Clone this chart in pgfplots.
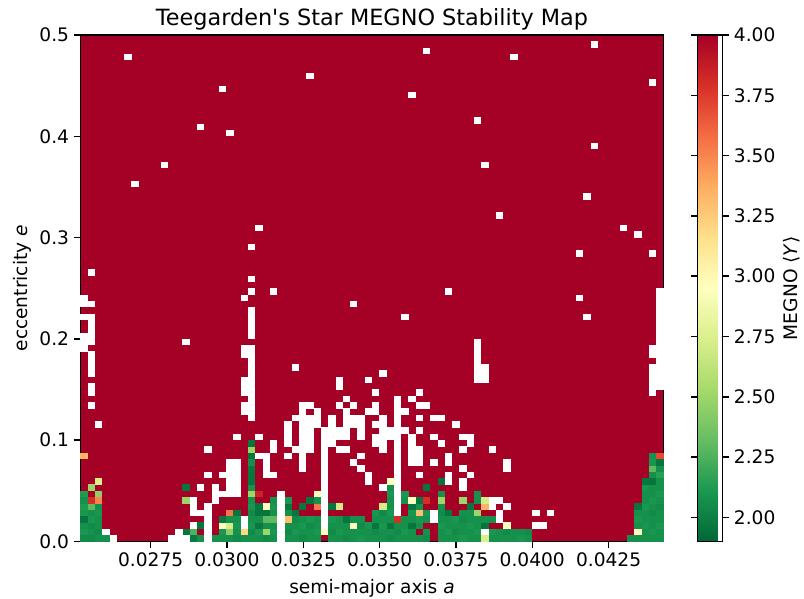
\documentclass[border=0pt]{standalone}
\usepackage{fontspec}
\setmainfont{DejaVu Sans}
\usepackage{pgfplots}
\usepackage{pgfplotstable}
\pgfplotsset{compat=1.18}
\pgfplotsset{/pgf/number format/assume math mode=true}

\definecolor{megnosat}{RGB}{165,0,38}

% reversed RdYlGn
\pgfplotsset{colormap={RdYlGnr}{rgb255=(0,104,55) rgb255=(26,152,80) rgb255=(102,189,99) rgb255=(166,217,106) rgb255=(217,239,139) rgb255=(255,255,191) rgb255=(254,224,139) rgb255=(253,174,97) rgb255=(244,109,67) rgb255=(215,48,39) rgb255=(165,0,38)}}

\newcommand\tickfont{\fontsize{13.4}{16}\selectfont}

% one grid cell of the 80 x 80 (a, e) scan
\newlength\cellw \setlength\cellw{5.34pt}
\newlength\cellh \setlength\cellh{4.65pt}
\pgfdeclareplotmark{cell}{%
  \pgfpathrectangle{\pgfpoint{-0.5\cellw}{-0.5\cellh}}{\pgfpoint{\cellw}{\cellh}}%
  \pgfusepathqfill}

% cells with MEGNO below saturation: column i, row j, <Y>
\pgfplotstableread[row sep=\\]{
i j v\\
0 0 2.05\\ 0 1 2.10\\ 0 2 2.08\\ 0 3 1.96\\ 0 4 2.10\\ 0 5 2.12\\ 0 6 2.08\\ 0 7 2.12\\ 0 13 3.35\\
1 0 2.05\\ 1 1 2.08\\ 1 2 2.05\\ 1 3 2.10\\ 1 4 2.08\\ 1 5 2.30\\ 1 6 3.80\\ 1 8 2.50\\
2 0 2.08\\ 2 1 2.05\\ 2 2 2.08\\ 2 3 2.08\\ 2 4 2.10\\ 2 5 2.08\\ 2 6 3.50\\ 2 7 2.45\\ 2 9 2.75\\
3 0 2.08\\
14 1 1.96\\ 14 6 2.50\\ 14 8 1.96\\
15 0 1.98\\ 15 1 2.25\\
16 0 2.08\\ 16 2 1.96\\
18 0 2.08\\
19 0 2.08\\ 19 1 2.10\\ 19 2 2.95\\ 19 3 1.98\\
20 0 2.08\\ 20 1 2.45\\ 20 2 2.72\\ 20 3 2.08\\ 20 4 3.55\\
21 0 2.05\\ 21 1 2.08\\ 21 2 2.10\\ 21 3 2.08\\ 21 4 1.96\\
22 0 2.08\\ 22 1 3.20\\
23 0 2.08\\ 23 1 2.05\\ 23 2 2.10\\ 23 3 2.08\\ 23 4 2.05\\ 23 5 2.10\\ 23 6 2.08\\ 23 7 2.50\\ 23 8 2.08\\ 23 9 1.96\\ 23 10 1.96\\ 23 11 1.98\\ 23 12 2.08\\ 23 13 1.96\\ 23 14 2.50\\ 23 15 1.96\\
24 0 2.08\\ 24 1 2.10\\ 24 2 1.98\\ 24 3 2.08\\ 24 4 1.96\\ 24 5 1.96\\ 24 7 3.85\\
25 0 2.05\\ 25 1 2.50\\ 25 2 2.08\\ 25 3 2.30\\ 25 4 1.96\\ 25 5 2.95\\
26 0 2.08\\ 26 1 2.10\\ 26 2 2.08\\ 26 3 2.30\\ 26 4 2.08\\ 26 5 2.10\\ 26 6 2.08\\
28 0 2.08\\ 28 1 2.05\\ 28 2 2.08\\ 28 3 3.30\\ 28 4 2.08\\ 28 5 1.96\\ 28 6 2.10\\
29 0 2.08\\ 29 1 2.10\\ 29 2 2.08\\ 29 3 2.05\\ 29 4 1.96\\
30 0 2.05\\ 30 1 2.08\\ 30 2 2.10\\ 30 3 2.08\\ 30 5 1.96\\
31 0 2.08\\ 31 1 2.08\\ 31 2 2.05\\ 31 3 2.10\\ 31 6 1.96\\
32 0 2.08\\ 32 1 2.10\\ 32 2 2.08\\ 32 3 2.08\\ 32 5 3.55\\ 32 6 2.08\\ 32 7 2.95\\
33 1 2.95\\
34 0 2.08\\ 34 1 2.05\\ 34 2 2.08\\ 34 3 2.10\\ 34 5 1.96\\
35 0 2.08\\ 35 1 2.10\\ 35 2 2.08\\ 35 3 2.08\\ 35 5 2.72\\
36 0 2.05\\ 36 1 2.08\\ 36 2 2.08\\ 36 3 1.96\\
37 0 2.08\\ 37 1 2.08\\ 37 2 2.95\\ 37 3 2.08\\
38 0 2.10\\ 38 1 2.08\\ 38 2 2.05\\ 38 3 2.08\\
39 0 2.08\\ 39 1 2.08\\ 39 2 2.10\\
40 0 2.08\\ 40 1 2.05\\ 40 2 1.96\\ 40 3 2.08\\ 40 4 2.10\\
41 0 2.08\\ 41 1 2.08\\ 41 2 2.10\\ 41 3 2.08\\ 41 4 2.05\\ 41 5 2.72\\
42 0 2.05\\ 42 1 2.08\\ 42 2 1.96\\ 42 3 2.08\\ 42 4 2.10\\ 42 5 2.08\\ 42 6 2.08\\ 42 7 2.10\\ 42 8 2.08\\ 42 9 2.95\\
43 0 2.08\\ 43 1 2.05\\ 43 2 2.08\\ 43 3 3.80\\
44 0 2.08\\ 44 1 2.10\\ 44 2 2.08\\ 44 3 2.08\\ 44 6 2.08\\ 44 7 2.10\\
45 0 2.08\\ 45 1 2.08\\ 45 2 1.96\\ 45 3 2.08\\ 45 4 2.10\\ 45 5 1.96\\ 45 6 2.95\\
46 0 2.08\\ 46 2 2.08\\ 46 3 2.10\\ 46 4 3.30\\ 46 5 2.08\\ 46 6 1.96\\
47 0 2.05\\ 47 1 2.08\\ 47 3 2.08\\ 47 4 2.10\\ 47 6 3.80\\ 47 8 1.96\\
49 0 2.08\\ 49 1 2.08\\ 49 2 2.10\\ 49 3 2.08\\ 49 4 2.05\\ 49 5 2.08\\ 49 6 2.50\\ 49 7 2.08\\ 49 9 1.96\\
50 0 2.08\\ 50 1 2.10\\ 50 2 2.08\\ 50 3 2.08\\ 50 4 1.96\\
51 0 2.08\\ 51 1 2.05\\ 51 2 2.08\\ 51 3 2.10\\
52 0 2.10\\ 52 1 2.08\\ 52 2 2.08\\ 52 3 2.05\\ 52 4 2.08\\ 52 6 2.50\\
53 0 2.08\\ 53 1 2.08\\ 53 2 2.10\\ 53 3 2.08\\ 53 4 2.08\\ 53 5 1.96\\
54 0 2.08\\ 54 1 2.10\\ 54 2 2.08\\ 54 3 2.08\\ 54 4 2.50\\ 54 6 2.08\\ 54 7 2.08\\
55 0 2.75\\ 55 2 1.96\\ 55 3 2.08\\ 55 5 3.35\\ 55 6 2.72\\
56 0 2.08\\ 56 1 2.10\\ 56 3 2.08\\
57 0 2.08\\ 57 1 2.08\\
58 0 2.08\\ 58 1 2.05\\ 58 2 2.95\\
59 0 2.08\\ 59 1 2.08\\
60 0 2.10\\ 60 1 2.08\\
61 0 2.08\\ 61 1 2.05\\
75 0 2.08\\
76 0 2.08\\ 76 1 2.95\\ 76 2 2.08\\ 76 3 2.10\\ 76 4 2.08\\ 76 5 1.96\\
77 0 2.08\\ 77 1 2.08\\ 77 2 2.10\\ 77 3 2.08\\ 77 4 2.08\\ 77 5 2.10\\ 77 6 2.08\\ 77 7 2.08\\ 77 8 2.10\\ 77 9 1.96\\
78 0 2.08\\ 78 1 2.10\\ 78 2 2.08\\ 78 3 2.08\\ 78 4 2.05\\ 78 5 2.08\\ 78 6 2.10\\ 78 7 2.08\\ 78 8 2.08\\ 78 9 1.96\\ 78 10 2.08\\ 78 11 2.30\\ 78 12 2.10\\ 78 13 2.08\\
79 0 2.08\\ 79 1 2.08\\ 79 2 2.10\\ 79 3 2.08\\ 79 4 2.08\\ 79 5 2.05\\ 79 6 2.08\\ 79 7 2.10\\ 79 8 2.08\\ 79 9 2.08\\ 79 10 2.15\\ 79 11 2.08\\ 79 12 1.96\\ 79 13 3.70\\
}\stablecells

% cells where the integration broke off (no MEGNO value)
\pgfplotstableread[row sep=\\]{
i j\\
4 0\\ 12 0\\ 13 0\\ 14 0\\ 17 0\\ 27 0\\
3 1\\ 13 1\\ 17 1\\ 27 1\\ 55 1\\
15 2\\ 17 2\\ 22 2\\ 27 2\\ 33 2\\ 62 2\\ 63 2\\
17 3\\ 22 3\\ 27 3\\ 33 3\\ 48 3\\ 57 3\\
15 4\\ 16 4\\ 17 4\\ 27 4\\ 33 4\\ 43 4\\ 48 4\\ 57 4\\ 62 4\\ 64 4\\
15 5\\ 17 5\\ 27 5\\ 33 5\\ 43 5\\ 56 5\\ 58 5\\
15 6\\ 18 6\\ 27 6\\ 33 6\\ 43 6\\ 56 6\\ 57 6\\
18 7\\ 19 7\\ 20 7\\ 21 7\\ 27 7\\ 33 7\\ 43 7\\
16 8\\ 18 8\\ 20 8\\ 21 8\\ 33 8\\ 41 8\\ 43 8\\ 52 8\\
20 9\\ 21 9\\ 33 9\\ 39 9\\ 43 9\\ 50 9\\ 52 9\\
17 10\\ 19 10\\ 20 10\\ 21 10\\ 25 10\\ 26 10\\ 33 10\\ 39 10\\ 43 10\\ 46 10\\ 50 10\\ 53 10\\
20 11\\ 21 11\\ 25 11\\ 30 11\\ 33 11\\ 38 11\\ 43 11\\ 52 11\\ 58 11\\
20 12\\ 21 12\\ 25 12\\ 30 12\\ 33 12\\ 37 12\\ 43 12\\ 45 12\\ 46 12\\ 48 12\\ 50 12\\ 58 12\\
24 13\\ 25 13\\ 28 13\\ 30 13\\ 33 13\\ 38 13\\ 43 13\\ 45 13\\ 46 13\\ 50 13\\
17 14\\ 26 14\\ 29 14\\ 30 14\\ 31 14\\ 33 14\\ 35 14\\ 36 14\\ 41 14\\ 43 14\\ 45 14\\ 46 14\\ 52 14\\ 56 14\\
26 15\\ 28 15\\ 30 15\\ 31 15\\ 33 15\\ 34 15\\ 40 15\\ 41 15\\ 43 15\\ 45 15\\ 49 15\\ 53 15\\
21 16\\ 24 16\\ 28 16\\ 30 16\\ 31 16\\ 33 16\\ 34 16\\ 35 16\\ 36 16\\ 38 16\\ 40 16\\ 41 16\\ 42 16\\ 43 16\\ 45 16\\ 48 16\\ 52 16\\ 53 16\\
28 17\\ 30 17\\ 31 17\\ 33 17\\ 34 17\\ 35 17\\ 36 17\\ 38 17\\ 41 17\\ 42 17\\ 43 17\\ 44 17\\ 46 17\\
2 18\\ 28 18\\ 30 18\\ 31 18\\ 32 18\\ 34 18\\ 36 18\\ 37 18\\ 38 18\\ 40 18\\ 41 18\\ 43 18\\ 51 18\\
23 19\\ 29 19\\ 30 19\\ 31 19\\ 32 19\\ 34 19\\ 36 19\\ 37 19\\ 38 19\\ 41 19\\ 43 19\\ 46 19\\ 48 19\\ 49 19\\
22 20\\ 23 20\\ 30 20\\ 32 20\\ 36 20\\ 39 20\\ 40 20\\ 43 20\\ 44 20\\
1 21\\ 22 21\\ 23 21\\ 30 21\\ 31 21\\ 35 21\\ 37 21\\ 40 21\\ 43 21\\ 46 21\\ 47 21\\
23 22\\ 36 22\\ 43 22\\ 45 22\\
1 23\\ 22 23\\ 23 23\\ 40 23\\ 46 23\\ 78 23\\
1 24\\ 22 24\\ 23 24\\ 35 24\\ 78 24\\ 79 24\\
22 25\\ 23 25\\ 35 25\\ 39 25\\ 54 25\\ 55 25\\ 78 25\\ 79 25\\
1 26\\ 23 26\\ 41 26\\ 54 26\\ 55 26\\ 78 26\\ 79 26\\
1 27\\ 23 27\\ 29 27\\ 54 27\\ 55 27\\ 78 27\\ 79 27\\
1 28\\ 23 28\\ 54 28\\ 79 28\\
1 29\\ 22 29\\ 23 29\\ 54 29\\ 78 29\\ 79 29\\
0 30\\ 22 30\\ 23 30\\ 54 30\\ 78 30\\ 79 30\\
0 31\\ 1 31\\ 14 31\\ 54 31\\ 79 31\\
0 32\\ 1 32\\ 23 32\\ 79 32\\
1 33\\ 23 33\\ 79 33\\
1 34\\ 23 34\\ 79 34\\
0 35\\ 1 35\\ 23 35\\ 44 35\\ 69 35\\ 79 35\\
23 36\\ 79 36\\
0 37\\ 1 37\\ 37 37\\ 79 37\\
0 38\\ 22 38\\ 68 38\\ 79 38\\
23 39\\ 26 39\\ 50 39\\ 79 39\\
23 41\\ 1 42\\ 23 46\\ 68 45\\ 78 45\\ 76 48\\ 24 49\\ 74 49\\
57 51\\ 69 54\\ 7 56\\ 11 59\\ 55 59\\ 70 62\\ 20 64\\ 16 65\\ 54 66\\
45 70\\ 19 71\\ 78 72\\ 31 73\\ 6 76\\ 59 76\\ 47 77\\ 70 78\\
}\voidcells

\begin{document}
\begin{tikzpicture}
\useasboundingbox (-57.96pt,-41.4pt) rectangle (520.92pt,389.88pt);
\begin{axis}[
  at={(0pt,0pt)}, anchor=south west,
  scale only axis, width=419.76pt, height=364.68pt,
  xmin=0.0252, xmax=0.0443, ymin=0, ymax=0.5,
  axis on top,
  colormap name=RdYlGnr,
  point meta min=1.9, point meta max=4.0,
  xtick={0.0275,0.0300,0.0325,0.0350,0.0375,0.0400,0.0425},
  ytick={0,0.1,0.2,0.3,0.4,0.5},
  scaled x ticks=false, scaled y ticks=false,
  xticklabel style={/pgf/number format/.cd, fixed, fixed zerofill, precision=4},
  yticklabel style={/pgf/number format/.cd, fixed, fixed zerofill, precision=1},
  tick align=outside, tick pos=left,
  major tick length=4.7pt,
  every tick/.style={black, line width=1.07pt},
  axis line style={line width=1.07pt},
  tick label style={font=\tickfont},
  label style={font=\tickfont},
  xlabel={semi-major axis \textit{a}},
  ylabel={eccentricity \textit{e}},
  xlabel style={yshift=-2.3pt},
  ylabel style={yshift=-1pt},
  title={Teegarden\textquotesingle s Star MEGNO Stability Map},
  title style={font=\fontsize{16.1}{19}\selectfont, yshift=-6pt},
  colorbar,
  colorbar shift/.style={xshift=24.5pt},
  colorbar style={
    at={(parent axis.north east)}, anchor=north west,
    width=18pt,
    ytick={2.00,2.25,2.50,2.75,3.00,3.25,3.50,3.75,4.00},
    yticklabel style={/pgf/number format/.cd, fixed, fixed zerofill, precision=2},
    tick align=outside, major tick length=4.7pt,
    every tick/.style={black, line width=1.07pt},
    axis line style={line width=1.07pt},
    tick label style={font=\tickfont},
    ylabel={MEGNO ⟨\textit{Y}⟩},
    ylabel style={font=\tickfont},
    ylabel shift=-1pt,
  },
]
% saturated (chaotic) background, <Y> = 4
\addplot[fill=megnosat, draw=none, forget plot]
  coordinates {(0.0252,0) (0.0443,0) (0.0443,0.5) (0.0252,0.5) (0.0252,0)};
% quasi-periodic and weakly chaotic cells
\addplot[scatter, only marks, mark=cell, point meta=explicit,
  scatter/use mapped color={draw=mapped color, fill=mapped color}]
  table[x expr={0.0252+(\thisrow{i}+0.5)*0.00023875},
        y expr={(\thisrow{j}+0.5)*0.00625}, meta=v]{\stablecells};
% cells without a value
\addplot[only marks, mark=cell, color=white, fill=white]
  table[x expr={0.0252+(\thisrow{i}+0.5)*0.00023875},
        y expr={(\thisrow{j}+0.5)*0.00625}]{\voidcells};
\end{axis}
\end{tikzpicture}
\end{document}
